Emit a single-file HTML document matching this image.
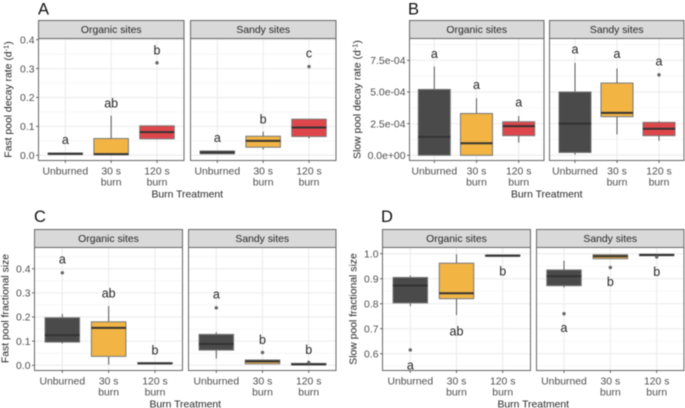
<!DOCTYPE html>
<html lang="en">
<head>
<meta charset="utf-8">
<title>Burn treatment boxplots</title>
<style>
html,body{margin:0;padding:0;background:#fff;width:685px;height:408px;overflow:hidden}
svg{display:block;filter:blur(.5px);font-family:"Liberation Sans",Arial,sans-serif}
</style>
</head>
<body>
<svg id="chart" width="685" height="408" viewBox="0 0 685 408" xmlns="http://www.w3.org/2000/svg"></svg>
<script>
const categories = [["Unburned"], ["30 s", "burn"], ["120 s", "burn"]];
const xAxisTitle = "Burn Treatment";

const aTicks = [0, 0.1, 0.2, 0.3, 0.4];
const aMinor = [0.05, 0.15, 0.25, 0.35];
const aTickLabels = ["0.0", "0.1", "0.2", "0.3", "0.4"];
const aOrgLo = [0.003, 0.0, 0.055];
const aOrgQ1 = [0.003, 0.002, 0.057];
const aOrgMed = [0.005, 0.004, 0.08];
const aOrgQ3 = [0.008, 0.058, 0.102];
const aOrgHi = [0.008, 0.137, 0.103];
const aOrgOut = [null, null, 0.32];
const aOrgLetters = ["a", "ab", "b"];
const aOrgLetterAt = [0.05, 0.181, 0.364];
const aSanLo = [0.005, 0.02, 0.058];
const aSanQ1 = [0.005, 0.028, 0.065];
const aSanMed = [0.01, 0.05, 0.096];
const aSanQ3 = [0.015, 0.066, 0.125];
const aSanHi = [0.015, 0.082, 0.126];
const aSanOut = [null, null, 0.307];
const aSanLetters = ["a", "b", "c"];
const aSanLetterAt = [0.057, 0.126, 0.35];

const bTicks = [0, 2.5e-4, 5e-4, 7.5e-4];
const bMinor = [1.25e-4, 3.75e-4, 6.25e-4, 8.75e-4];
const bTickLabels = ["0.0e+00", "2.5e-04", "5.0e-04", "7.5e-04"];
const bOrgLo = [0, 0, 1.0e-4];
const bOrgQ1 = [0, 0, 1.55e-4];
const bOrgMed = [1.45e-4, 0.95e-4, 2.3e-4];
const bOrgQ3 = [5.2e-4, 3.3e-4, 2.65e-4];
const bOrgHi = [7.0e-4, 4.5e-4, 3.1e-4];
const bOrgOut = [null, null, null];
const bOrgLetters = ["a", "a", "a"];
const bOrgLetterAt = [7.95e-4, 5.5e-4, 4.1e-4];
const bSanLo = [0.05e-4, 1.65e-4, 1.15e-4];
const bSanQ1 = [0.22e-4, 3.05e-4, 1.55e-4];
const bSanMed = [2.5e-4, 3.35e-4, 2.1e-4];
const bSanQ3 = [5.0e-4, 5.7e-4, 2.6e-4];
const bSanHi = [7.3e-4, 6.85e-4, 2.7e-4];
const bSanOut = [null, null, 6.35e-4];
const bSanLetters = ["a", "a", "a"];
const bSanLetterAt = [8.3e-4, 7.95e-4, 7.35e-4];

const cTicks = [0, 0.1, 0.2, 0.3, 0.4];
const cMinor = [0.05, 0.15, 0.25, 0.35, 0.45];
const cTickLabels = ["0.0", "0.1", "0.2", "0.3", "0.4"];
const cOrgLo = [0.09, 0.003, 0.006];
const cOrgQ1 = [0.096, 0.037, 0.006];
const cOrgMed = [0.125, 0.155, 0.008];
const cOrgQ3 = [0.197, 0.18, 0.011];
const cOrgHi = [0.212, 0.245, 0.011];
const cOrgOut = [0.383, null, null];
const cOrgLetters = ["a", "ab", "b"];
const cOrgLetterAt = [0.435, 0.298, 0.063];
const cSanLo = [0.028, 0.006, 0.002];
const cSanQ1 = [0.063, 0.006, 0.002];
const cSanMed = [0.088, 0.016, 0.004];
const cSanQ3 = [0.128, 0.022, 0.008];
const cSanHi = [0.137, 0.022, 0.008];
const cSanOut = [0.238, 0.053, 0.012];
const cSanLetters = ["a", "b", "b"];
const cSanLetterAt = [0.29, 0.106, 0.065];

const dTicks = [0.6, 0.7, 0.8, 0.9, 1.0];
const dMinor = [0.55, 0.65, 0.75, 0.85, 0.95];
const dTickLabels = ["0.6", "0.7", "0.8", "0.9", "1.0"];
const dOrgLo = [0.79, 0.755, 0.99];
const dOrgQ1 = [0.803, 0.82, 0.99];
const dOrgMed = [0.873, 0.842, 0.992];
const dOrgQ3 = [0.905, 0.962, 0.995];
const dOrgHi = [0.913, 0.998, 0.995];
const dOrgOut = [0.615, null, null];
const dOrgLetters = ["a", "ab", "b"];
const dOrgLetterAt = [0.55, 0.69, 0.93];
const dSanLo = [0.865, 0.98, 0.992];
const dSanQ1 = [0.872, 0.98, 0.992];
const dSanMed = [0.91, 0.99, 0.995];
const dSanQ3 = [0.935, 0.996, 0.998];
const dSanHi = [0.972, 0.996, 0.998];
const dSanOut = [0.76, 0.945, 0.987];
const dSanLetters = ["a", "b", "b"];
const dSanLetterAt = [0.70, 0.888, 0.928];

const boxFills = ["#4a4a4a", "#f2b544", "#df464b"];
const NS = "http://www.w3.org/2000/svg";
const root = document.getElementById("chart");

function mk(tag, attrs, parent, name) {
  const el = document.createElementNS(NS, tag);
  for (const k in attrs) el.setAttribute(k, attrs[k]);
  
  
  parent.appendChild(el);
  return el;
}
function label(parent, name, x, y, str, size, fill, anchor) {
  const t = mk("text", {x: x, y: y, "font-size": size, fill: fill, "text-anchor": anchor || "middle"}, parent, name);
  t.textContent = str;
  return t;
}
function linear(d0, d1, r0, r1) {
  return function (v) { return r0 + (v - d0) * (r1 - r0) / (d1 - d0); };
}

function drawFacet(g, f, p, y, showY) {
  const slug = f.title.toLowerCase().replace(" sites", "");
  const x = linear(0, 2, f.cx0, f.cx2);
  const fg = mk("g", {}, g, "facet-" + slug);
  mk("rect", {x: f.x0, y: p.panelTop, width: f.x1 - f.x0, height: p.panelBottom - p.panelTop, fill: "#fff"}, fg, "panel-background");
  p.minor.forEach(function (v) {
    const py = y(v);
    if (py > p.panelTop && py < p.panelBottom)
      mk("line", {x1: f.x0, x2: f.x1, y1: py, y2: py, stroke: "#f3f3f3", "stroke-width": 0.7}, fg, "minor-gridline");
  });
  p.ticks.forEach(function (v) {
    mk("line", {x1: f.x0, x2: f.x1, y1: y(v), y2: y(v), stroke: "#ebebeb", "stroke-width": 1}, fg, "major-gridline");
  });
  categories.forEach(function (c, i) {
    mk("line", {x1: x(i), x2: x(i), y1: p.panelTop, y2: p.panelBottom, stroke: "#ebebeb", "stroke-width": 1}, fg, "vertical-gridline");
  });
  categories.forEach(function (c, i) {
    const name = c[0].replace(" ", "-").toLowerCase();
    const bg = mk("g", {}, fg, "box-" + name);
    const cx = x(i), hw = p.boxWidth / 2;
    mk("line", {x1: cx, x2: cx, y1: y(f.lo[i]), y2: y(f.hi[i]), stroke: "#555", "stroke-width": 1}, bg, "whisker");
    mk("rect", {x: cx - hw, y: y(f.q3[i]), width: p.boxWidth, height: Math.max(0.5, y(f.q1[i]) - y(f.q3[i])), fill: boxFills[i], stroke: "#777", "stroke-width": 1}, bg, "box-body");
    mk("line", {x1: cx - hw, x2: cx + hw, y1: y(f.med[i]), y2: y(f.med[i]), stroke: "#333", "stroke-width": 2}, bg, "median-line");
    if (f.out[i] !== null)
      mk("circle", {cx: cx, cy: y(f.out[i]), r: 1.7, fill: "#666"}, bg, "outlier-point");
    const short = f.letters[i] === "a" || f.letters[i] === "c";
    label(bg, "significance-letter", cx, y(f.at[i]) + (short ? 3.3 : 4.4), f.letters[i], 12.5, "#262626");
  });
  mk("rect", {x: f.x0, y: p.panelTop, width: f.x1 - f.x0, height: p.panelBottom - p.panelTop, fill: "none", stroke: "#666", "stroke-width": 1}, fg, "panel-border");
  mk("rect", {x: f.x0, y: p.stripTop, width: f.x1 - f.x0, height: p.panelTop - p.stripTop, fill: "#d9d9d9", stroke: "#666", "stroke-width": 1}, fg, "facet-strip");
  label(fg, "facet-title", (f.x0 + f.x1) / 2, (p.stripTop + p.panelTop) / 2 + 3.6, f.title, 10.4, "#262626");
  categories.forEach(function (c, i) {
    mk("line", {x1: x(i), x2: x(i), y1: p.panelBottom, y2: p.panelBottom + 2.5, stroke: "#444", "stroke-width": 0.8}, fg, "x-tick");
    c.forEach(function (line, j) {
      label(fg, "x-tick-label", x(i), p.panelBottom + 14 + j * 11, line, 10.4, "#4d4d4d");
    });
  });
  if (showY) {
    p.ticks.forEach(function (v, i) {
      mk("line", {x1: f.x0 - 2.5, x2: f.x0, y1: y(v), y2: y(v), stroke: "#444", "stroke-width": 0.8}, fg, "y-tick");
      label(fg, "y-tick-label", f.x0 - 4, y(v) + 3.7, p.tickLabels[i], 10.4, "#4d4d4d", "end");
    });
  }
}

function drawPanel(p) {
  const g = mk("g", {}, root, "panel-" + p.letter.toLowerCase());
  const y = linear(p.refV[0], p.refV[1], p.refY[0], p.refY[1]);
  p.facets.forEach(function (f, i) { drawFacet(g, f, p, y, i === 0); });
  label(g, "panel-label", p.labelX, p.labelY, p.letter, 16.5, "#111", "start");
  label(g, "x-axis-title", (p.facets[0].x0 + p.facets[1].x1) / 2, p.panelBottom + 37.2, xAxisTitle, 10.4, "#262626");
  const yt = mk("text", {"font-size": 10.4, fill: "#262626", "text-anchor": "middle", transform: "translate(" + p.yTitleX + "," + p.yTitleY + ") rotate(-90)"}, g, "y-axis-title");
  yt.textContent = p.yTitle;
  if (p.sup) {
    const s1 = mk("tspan", {dy: -3, "font-size": 7.5}, yt, "y-axis-title-exponent");
    s1.textContent = "-1";
    const s2 = mk("tspan", {dy: 3}, yt, "y-axis-title-close");
    s2.textContent = ")";
  }
}

drawPanel({
  letter: "A", labelX: 38, labelY: 14.5, stripTop: 20.5, panelTop: 38.5, panelBottom: 160.5,
  refV: [0, 0.4], refY: [155.3, 39.7], ticks: aTicks, minor: aMinor, tickLabels: aTickLabels, boxWidth: 34.5,
  yTitle: "Fast pool decay rate (d", sup: true, yTitleX: 11.5, yTitleY: 99.5,
  facets: [
    {title: "Organic sites", x0: 38.5, x1: 184, cx0: 65.3, cx2: 157, lo: aOrgLo, q1: aOrgQ1, med: aOrgMed, q3: aOrgQ3, hi: aOrgHi, out: aOrgOut, letters: aOrgLetters, at: aOrgLetterAt},
    {title: "Sandy sites", x0: 190.5, x1: 336, cx0: 217.3, cx2: 309, lo: aSanLo, q1: aSanQ1, med: aSanMed, q3: aSanQ3, hi: aSanHi, out: aSanOut, letters: aSanLetters, at: aSanLetterAt}
  ]
});
drawPanel({
  letter: "B", labelX: 408, labelY: 14.5, stripTop: 20.5, panelTop: 38.5, panelBottom: 160.5,
  refV: [0, 7.5e-4], refY: [155.3, 60.3], ticks: bTicks, minor: bMinor, tickLabels: bTickLabels, boxWidth: 32,
  yTitle: "Slow pool decay rate (d", sup: true, yTitleX: 360.5, yTitleY: 99.5,
  facets: [
    {title: "Organic sites", x0: 409.5, x1: 544, cx0: 434.3, cx2: 518.7, lo: bOrgLo, q1: bOrgQ1, med: bOrgMed, q3: bOrgQ3, hi: bOrgHi, out: bOrgOut, letters: bOrgLetters, at: bOrgLetterAt},
    {title: "Sandy sites", x0: 549.5, x1: 684, cx0: 575, cx2: 659, lo: bSanLo, q1: bSanQ1, med: bSanMed, q3: bSanQ3, hi: bSanHi, out: bSanOut, letters: bSanLetters, at: bSanLetterAt}
  ]
});
drawPanel({
  letter: "C", labelX: 34, labelY: 222, stripTop: 229.5, panelTop: 247.5, panelBottom: 370.5,
  refV: [0, 0.4], refY: [365.3, 268.7], ticks: cTicks, minor: cMinor, tickLabels: cTickLabels, boxWidth: 34.5,
  yTitle: "Fast pool fractional size", sup: false, yTitleX: 8.5, yTitleY: 308.5,
  facets: [
    {title: "Organic sites", x0: 34.5, x1: 182.5, cx0: 62.3, cx2: 155, lo: cOrgLo, q1: cOrgQ1, med: cOrgMed, q3: cOrgQ3, hi: cOrgHi, out: cOrgOut, letters: cOrgLetters, at: cOrgLetterAt},
    {title: "Sandy sites", x0: 188.5, x1: 336, cx0: 216.3, cx2: 308.7, lo: cSanLo, q1: cSanQ1, med: cSanMed, q3: cSanQ3, hi: cSanHi, out: cSanOut, letters: cSanLetters, at: cSanLetterAt}
  ]
});
drawPanel({
  letter: "D", labelX: 381, labelY: 222, stripTop: 229.5, panelTop: 247.5, panelBottom: 370.5,
  refV: [0.6, 1.0], refY: [353.7, 253.7], ticks: dTicks, minor: dMinor, tickLabels: dTickLabels, boxWidth: 34.5,
  yTitle: "Slow pool fractional size", sup: false, yTitleX: 356.5, yTitleY: 309,
  facets: [
    {title: "Organic sites", x0: 382.5, x1: 530.5, cx0: 410.3, cx2: 502.7, lo: dOrgLo, q1: dOrgQ1, med: dOrgMed, q3: dOrgQ3, hi: dOrgHi, out: dOrgOut, letters: dOrgLetters, at: dOrgLetterAt},
    {title: "Sandy sites", x0: 536.5, x1: 684, cx0: 564, cx2: 656.7, lo: dSanLo, q1: dSanQ1, med: dSanMed, q3: dSanQ3, hi: dSanHi, out: dSanOut, letters: dSanLetters, at: dSanLetterAt}
  ]
});
</script>
</body>
</html>
